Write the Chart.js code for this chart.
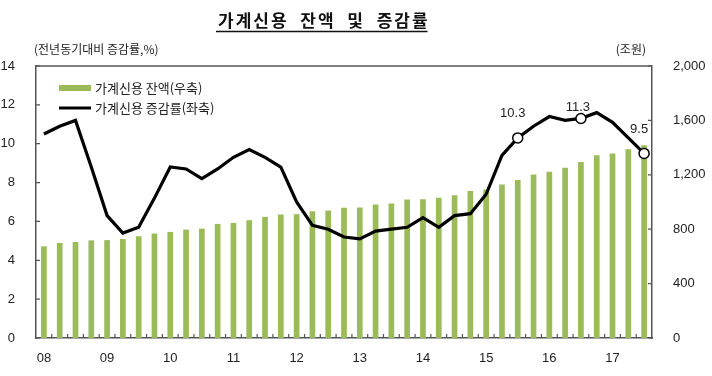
<!DOCTYPE html>
<html>
<head>
<meta charset="utf-8">
<script src="https://cdn.jsdelivr.net/npm/chart.js@4.4.1/dist/chart.umd.min.js"></script>
<style>
  html, body { margin: 0; padding: 0; background: #fff; }
  #wrap { width: 712px; height: 376px; position: relative; }
</style>
</head>
<body>
<div id="wrap"><canvas id="chart" width="712" height="376"></canvas></div>
<script>
// ================= DATA =================
const quarters = [
  "08.1", "08.2", "08.3", "08.4", "09.1", "09.2", "09.3", "09.4",
  "10.1", "10.2", "10.3", "10.4", "11.1", "11.2", "11.3", "11.4",
  "12.1", "12.2", "12.3", "12.4", "13.1", "13.2", "13.3", "13.4",
  "14.1", "14.2", "14.3", "14.4", "15.1", "15.2", "15.3", "15.4",
  "16.1", "16.2", "16.3", "16.4", "17.1", "17.2", "17.3",
];
const yearLabels = ["08", "09", "10", "11", "12", "13", "14", "15", "16", "17"];

// 가계신용 잔액 (조원, 우축)
const balance = [
  674, 699, 706, 718, 720, 728, 748, 768,
  780, 797, 804, 839, 846, 866, 891, 908,
  910, 932, 937, 957, 959, 981, 989, 1018,
  1020, 1031, 1050, 1080, 1092, 1129, 1161, 1203,
  1223, 1252, 1294, 1343, 1356, 1387, 1417,
];

// 가계신용 증감률 (%, 좌축)
const growth = [
  10.5, 10.9, 11.2, 8.8, 6.3, 5.4, 5.7, 7.2,
  8.8, 8.7, 8.2, 8.7, 9.3, 9.7, 9.3, 8.8,
  7.0, 5.8, 5.6, 5.2, 5.1, 5.5, 5.6, 5.7,
  6.2, 5.7, 6.3, 6.4, 7.4, 9.4, 10.3, 10.9,
  11.4, 11.2, 11.3, 11.6, 11.1, 10.3, 9.5,
];

const markIdx = [30, 34, 38];
const markText = ["10.3", "11.3", "9.5"];

// ================= STYLE =================
const KR = "'Noto Sans CJK KR', 'Noto Sans', sans-serif";
const NUM = "'Liberation Sans', Arial, sans-serif";
const AXIS = "#555";
const TEXT = "#222";
const GREEN = "#9bbb59";

// ================= DECORATION =================
const decor = {
  id: "decor",
  afterDraw(chart) {
    const ctx = chart.ctx;
    const a = chart.chartArea;
    const x = chart.scales.x;
    const yl = chart.scales.y;
    const yr = chart.scales.y1;
    ctx.save();

    // title
    ctx.fillStyle = "#111";
    ctx.font = "bold 17px " + KR;
    ctx.letterSpacing = "2px";
    ctx.textBaseline = "alphabetic";
    ctx.textAlign = "left";
    const title = "가계신용  잔액  및  증감률";
    const tw = ctx.measureText(title).width;
    ctx.fillText(title, 218, 27);
    ctx.letterSpacing = "0px";
    ctx.strokeStyle = "#111";
    ctx.lineWidth = 1.5;
    ctx.beginPath();
    ctx.moveTo(216, 31.5);
    ctx.lineTo(216 + tw, 31.5);
    ctx.stroke();

    // axis titles
    ctx.fillStyle = TEXT;
    ctx.font = "12px " + KR;
    ctx.textBaseline = "middle";
    ctx.textAlign = "left";
    ctx.fillText("(전년동기대비 증감률,%)", 34, 49);
    ctx.textAlign = "right";
    ctx.fillText("(조원)", 646, 49);

    // top frame
    ctx.strokeStyle = AXIS;
    ctx.lineWidth = 1.5;
    ctx.beginPath();
    ctx.moveTo(a.left, a.top);
    ctx.lineTo(a.right, a.top);
    ctx.stroke();

    // inward ticks
    ctx.lineWidth = 1.2;
    ctx.beginPath();
    yl.ticks.forEach((t) => {
      const py = yl.getPixelForValue(t.value);
      ctx.moveTo(a.left, py);
      ctx.lineTo(a.left + 4, py);
    });
    yr.ticks.forEach((t) => {
      const py = yr.getPixelForValue(t.value);
      ctx.moveTo(a.right, py);
      ctx.lineTo(a.right - 4, py);
    });
    for (let i = 0; i < quarters.length - 1; i++) {
      const px = (x.getPixelForValue(i) + x.getPixelForValue(i + 1)) / 2;
      ctx.moveTo(px, a.bottom);
      ctx.lineTo(px, a.bottom - 4);
    }
    ctx.stroke();

    // legend
    ctx.fillStyle = GREEN;
    ctx.fillRect(59, 85, 32, 6);
    ctx.strokeStyle = "#000";
    ctx.lineWidth = 3;
    ctx.beginPath();
    ctx.moveTo(59, 108);
    ctx.lineTo(91, 108);
    ctx.stroke();
    ctx.fillStyle = TEXT;
    ctx.font = "13px " + KR;
    ctx.textAlign = "left";
    ctx.textBaseline = "middle";
    ctx.fillText("가계신용 잔액(우축)", 95, 88);
    ctx.fillText("가계신용 증감률(좌축)", 95, 108);

    // value labels
    const meta = chart.getDatasetMeta(0);
    ctx.font = "13px " + NUM;
    ctx.textAlign = "center";
    const offs = [[-5, -24], [-3, -11], [-5, -24]];
    markIdx.forEach((idx, k) => {
      const p = meta.data[idx];
      ctx.fillText(markText[k], p.x + offs[k][0], p.y + offs[k][1]);
    });

    ctx.restore();
  },
};

// ================= CHART =================
new Chart(document.getElementById("chart"), {
  data: {
    labels: quarters,
    datasets: [
      {
        type: "line",
        data: growth,
        yAxisID: "y",
        borderColor: "#000",
        borderWidth: 3.2,
        tension: 0,
        order: 0,
        pointRadius: (c) => (markIdx.includes(c.dataIndex) ? 5 : 0),
        pointBackgroundColor: "#fff",
        pointBorderColor: "#000",
        pointBorderWidth: 1.5,
      },
      {
        type: "bar",
        data: balance,
        yAxisID: "y1",
        backgroundColor: GREEN,
        categoryPercentage: 1,
        barPercentage: 0.36,
        order: 1,
      },
    ],
  },
  options: {
    responsive: false,
    animation: false,
    events: [],
    layout: { padding: { top: 66, left: 0, right: 0, bottom: 0 } },
    plugins: { legend: { display: false }, tooltip: { enabled: false } },
    scales: {
      x: {
        offset: true,
        grid: { display: false },
        border: { color: AXIS, width: 1.5 },
        afterFit: (s) => { s.height = 38; },
        ticks: {
          autoSkip: false,
          maxRotation: 0,
          padding: 5,
          color: TEXT,
          font: { family: NUM, size: 13 },
          callback: (v, i) => (i % 4 === 0 ? yearLabels[i / 4] : ""),
        },
      },
      y: {
        position: "left",
        min: 0,
        max: 14,
        grid: { display: false },
        border: { color: AXIS, width: 1.5 },
        afterFit: (s) => { s.width = 36; },
        ticks: {
          stepSize: 2,
          padding: 13,
          color: TEXT,
          font: { family: NUM, size: 13 },
        },
      },
      y1: {
        position: "right",
        min: 0,
        max: 2000,
        grid: { display: false },
        border: { color: AXIS, width: 1.5 },
        afterFit: (s) => { s.width = 60; },
        ticks: {
          stepSize: 400,
          padding: 13,
          color: TEXT,
          font: { family: NUM, size: 13 },
          callback: (v) => v.toLocaleString("en-US"),
        },
      },
    },
  },
  plugins: [decor],
});
</script>
</body>
</html>
